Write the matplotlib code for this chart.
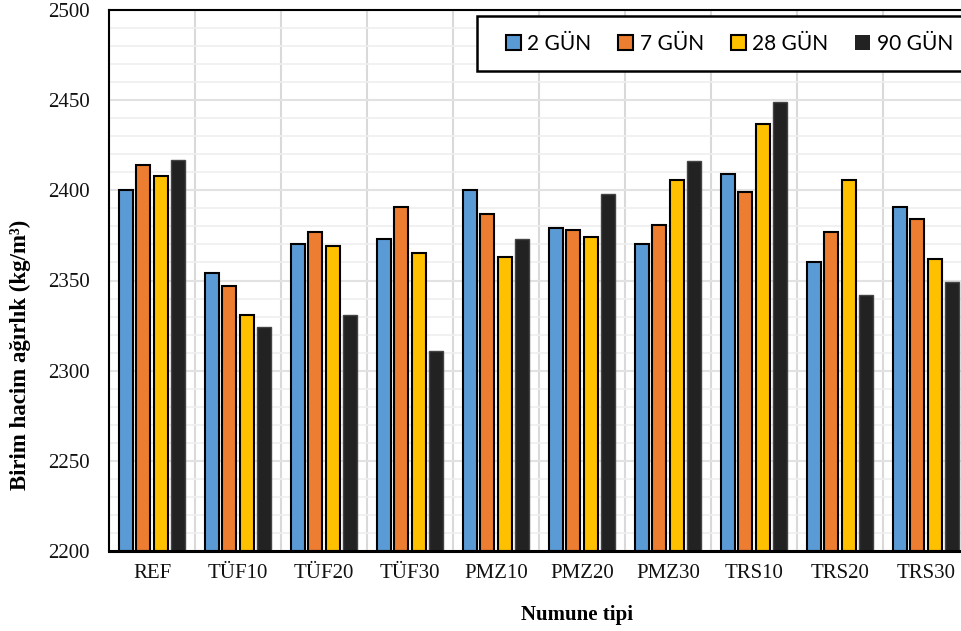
import numpy as np
import matplotlib
matplotlib.use("Agg")
import matplotlib.pyplot as plt
from matplotlib.patches import Patch, Rectangle

categories = ["REF", "TÜF10", "TÜF20", "TÜF30", "PMZ10", "PMZ20", "PMZ30", "TRS10", "TRS20", "TRS30"]
series_names = ["2 GÜN", "7 GÜN", "28 GÜN", "90 GÜN"]
gun2 = [2400, 2354, 2370, 2373, 2400, 2379, 2370, 2409, 2360, 2391]
gun7 = [2414, 2347, 2377, 2391, 2387, 2378, 2381, 2399, 2377, 2384]
gun28 = [2408, 2331, 2369, 2365, 2363, 2374, 2406, 2437, 2406, 2362]
gun90 = [2417, 2324, 2331, 2311, 2373, 2398, 2416, 2449, 2342, 2349]
yticks = [2200, 2250, 2300, 2350, 2400, 2450, 2500]

colors = ["#5B9BD5", "#ED7D31", "#FFC000", "#222222"]
edges = ["black", "black", "black", "#444444"]
elw = [1.5, 1.5, 1.5, 1.0]

W, H = 962, 631
fig = plt.figure(figsize=(W/100, H/100), dpi=100)
ax = fig.add_axes([109/W, 80/H, 860/W, 541/H])

x = np.arange(len(categories))
pitch = 0.205
width = 0.163
base = 2200
for i, vals in enumerate([gun2, gun7, gun28, gun90]):
    off = (i - 1.5) * pitch
    ax.bar(x + off, np.array(vals) - base, bottom=base, width=width,
           color=colors[i], edgecolor=edges[i], linewidth=elw[i], zorder=3)

ax.set_xlim(-0.5, len(categories) - 0.5)
ax.set_ylim(2200, 2500)
ax.set_yticks(yticks)
ax.set_yticks(np.arange(2200, 2501, 10), minor=True)
ax.set_xticks(x)
ax.set_xticklabels(categories)
ax.set_xticks(np.arange(-0.5, len(categories), 1), minor=True)

ax.grid(True, which="minor", axis="y", color="#EFEFEF", linewidth=1.2, zorder=0)
ax.grid(True, which="major", axis="y", color="#E2E2E2", linewidth=1.5, zorder=0)
ax.grid(True, which="minor", axis="x", color="#D9D9D9", linewidth=1.5, zorder=0)
ax.set_axisbelow(True)

ax.tick_params(axis="both", which="both", length=0)
ax.tick_params(axis="y", pad=14)
ax.tick_params(axis="x", pad=9)
for lab in ax.get_xticklabels() + ax.get_yticklabels():
    lab.set_fontfamily("Liberation Serif")
    lab.set_fontsize(15)
    lab.set_color("#111111")

for s in ["left", "top", "right"]:
    ax.spines[s].set_linewidth(1.5)
ax.spines["bottom"].set_linewidth(2.2)
for s in ax.spines.values():
    s.set_color("black")
    s.set_zorder(4)

ax.set_ylabel("Birim hacim ağırlık (kg/m³)", fontfamily="Liberation Serif",
              fontsize=16.5, fontweight="bold")
ax.yaxis.set_label_coords(-0.091, 0.362)
ax.set_xlabel("Numune tipi", fontfamily="Liberation Serif", fontsize=15, fontweight="bold")
ax.xaxis.set_label_coords(0.544, -0.100)

# legend frame (extends past right edge, as in the reference)
frame = Rectangle((477/W, 1 - 71/H), 560/W, 55/H, transform=fig.transFigure,
                  facecolor="white", edgecolor="black", linewidth=1.8, zorder=5)
fig.patches.append(frame)

handles = [Patch(facecolor=colors[i], edgecolor=edges[i], linewidth=1.5 if i < 3 else 0)
           for i in range(4)]
leg = fig.legend(handles, series_names, loc="center left",
                 bbox_to_anchor=(506/W, 1 - 43.5/H), bbox_transform=fig.transFigure,
                 ncol=4, frameon=False, prop={"family": "Lato", "size": 15},
                 handlelength=0.7, handleheight=0.7, handletextpad=0.32,
                 columnspacing=1.3, borderpad=0, borderaxespad=0)
leg.set_zorder(6)

fig.savefig("out.png", dpi=100)
